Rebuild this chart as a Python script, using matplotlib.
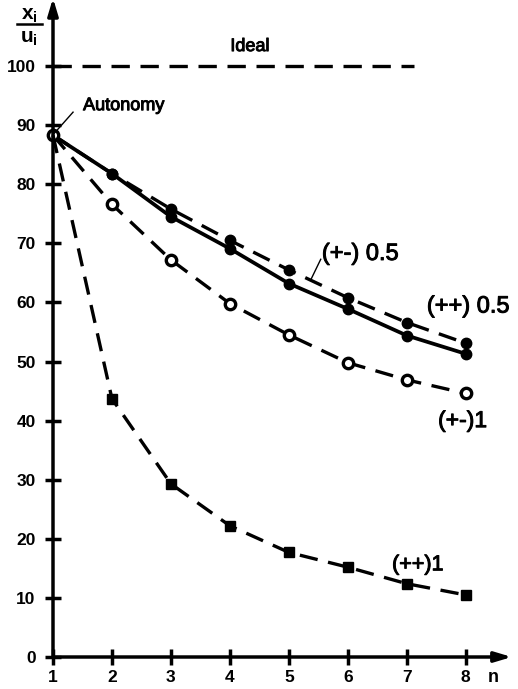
import matplotlib
matplotlib.use("Agg")
import matplotlib.pyplot as plt
from matplotlib.lines import Line2D
import matplotlib.patheffects as pe

plt.rcParams['font.family'] = ['Liberation Sans', 'DejaVu Sans']
plt.rcParams['mathtext.fontset'] = 'custom'
plt.rcParams['mathtext.rm'] = 'Liberation Sans:bold'
plt.rcParams['mathtext.it'] = 'Liberation Sans:bold'

# ---- data ----
n = [1, 2, 3, 4, 5, 6, 7, 8]
pm_05 = [88.3, 81.8, 75.8, 70.5, 65.5, 60.8, 56.6, 53.1]   # dashed, filled circles
pp_05 = [88.3, 81.8, 74.5, 69.1, 63.2, 58.9, 54.4, 51.3]   # solid, filled circles
pm_1 = [88.3, 76.6, 67.2, 59.8, 54.5, 49.8, 46.9, 44.6]    # dashed, open circles
pp_1 = [88.3, 43.7, 29.3, 22.2, 17.7, 15.2, 12.4, 10.5]    # dashed, squares
ideal_x = [1, 7.13]
ideal_y = [100, 100]
yticks = [0, 10, 20, 30, 40, 50, 60, 70, 80, 90, 100]
xticks = [1, 2, 3, 4, 5, 6, 7, 8]

W, H = 518, 689
fig = plt.figure(figsize=(W / 100, H / 100), dpi=100)
ax = fig.add_axes([53 / W, (H - 657) / H, (510 - 53) / W, (657 - 4) / H])
ax.set_xlim(1, 8.75)
ax.set_ylim(0, 110.5)
for s in ax.spines.values():
    s.set_visible(False)

lw = 2.4
dash = (0, (5.5, 3.2))
heavy = [pe.withStroke(linewidth=0.7, foreground='black')]

# axes with arrows
ax.annotate('', xy=(8.78, 0), xytext=(1, 0), xycoords='data',
            arrowprops=dict(arrowstyle='-|>,head_length=1.0,head_width=0.3', lw=2.5,
                            color='black', shrinkA=0, shrinkB=0), annotation_clip=False)
ax.annotate('', xy=(1, 111.5), xytext=(1, 0), xycoords='data',
            arrowprops=dict(arrowstyle='-|>,head_length=1.0,head_width=0.3', lw=2.5,
                            color='black', shrinkA=0, shrinkB=0), annotation_clip=False)

ax.set_xticks(xticks)
ax.set_yticks(yticks)
ax.tick_params(axis='both', direction='inout', length=11, width=2.5, color='black',
               labelsize=12.5)
ax.tick_params(axis='y', pad=7)
ax.tick_params(axis='x', pad=4)
for lab in ax.get_xticklabels() + ax.get_yticklabels():
    lab.set_fontweight('bold')

# ideal line
ax.plot(ideal_x, ideal_y, color='black', lw=lw, linestyle=dash, clip_on=False)

# series
ax.plot(n, pp_05, color='black', lw=lw + 0.3, linestyle='-', clip_on=False)
ax.plot(n[1:], pp_05[1:], 'o', color='black', ms=7.5, clip_on=False)
ax.plot(n, pm_05, color='black', lw=lw, linestyle=dash, clip_on=False)
ax.plot(n[1:], pm_05[1:], 'o', color='black', ms=7.5, clip_on=False)
ax.plot(n, pm_1, color='black', lw=lw, linestyle=dash, clip_on=False)
ax.plot(n, pm_1, 'o', mfc='white', mec='black', mew=2.4, ms=7.5, clip_on=False)
ax.plot(n, pp_1, color='black', lw=lw, linestyle=dash, clip_on=False)
ax.plot(n[1:], pp_1[1:], 's', color='black', ms=7, clip_on=False)

# annotations
ax.text(4.34, 103.3, 'Ideal', fontsize=13, ha='center', va='center', path_effects=heavy)
ax.text(1.51, 93.3, 'Autonomy', fontsize=13, ha='left', va='center', path_effects=heavy)
ax.plot([1.02, 1.34], [88.6, 92.2], color='black', lw=1.0)
ax.text(5.56, 68.2, '(+-) 0.5', fontsize=17, ha='left', va='center', path_effects=heavy)
ax.plot([5.54, 5.38], [67.3, 64.0], color='black', lw=1.0)
ax.text(7.34, 59.3, '(++) 0.5', fontsize=17, ha='left', va='center', clip_on=False,
        path_effects=heavy)
ax.text(7.53, 40.0, '(+-)1', fontsize=16.5, ha='left', va='center', clip_on=False,
        path_effects=heavy)
ax.text(6.75, 15.6, '(++)1', fontsize=15.5, ha='left', va='center', path_effects=heavy)
ax.text(8.46, -3.4, 'n', fontsize=13, ha='center', va='center', fontweight='bold',
        clip_on=False)

# y label as a fraction
fig.text(29 / W, 1 - 15 / H, r'$\mathrm{x_i}$', fontsize=15, ha='center', va='center')
fig.text(29 / W, 1 - 38 / H, r'$\mathrm{u_i}$', fontsize=15, ha='center', va='center')
fig.add_artist(Line2D([17 / W, 42 / W], [1 - 24 / H, 1 - 24 / H], color='black', lw=1.8,
                      transform=fig.transFigure))

fig.savefig('out.png', dpi=100)
